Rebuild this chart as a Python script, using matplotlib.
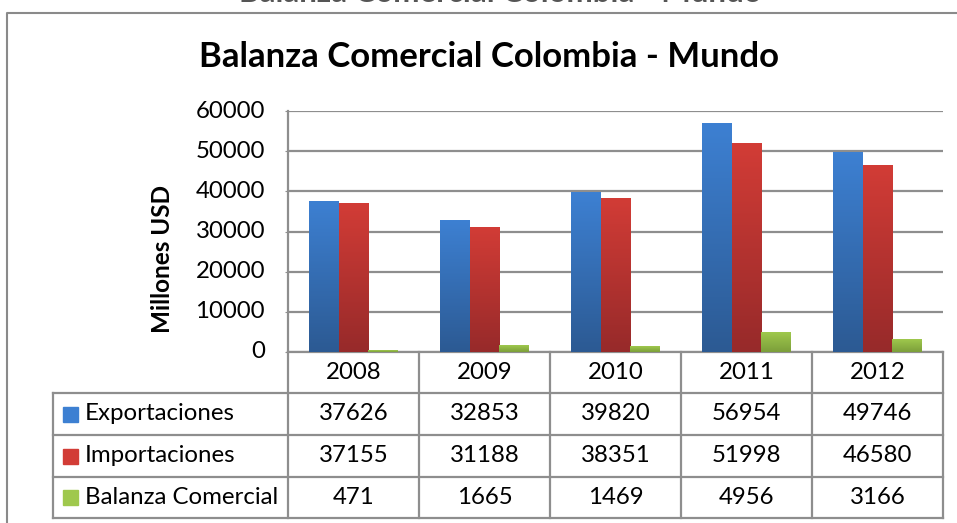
import numpy as np
import matplotlib
matplotlib.use('Agg')
import matplotlib.pyplot as plt
import matplotlib.transforms as mtransforms
from matplotlib.lines import Line2D
from matplotlib.colors import LinearSegmentedColormap

years = ['2008', '2009', '2010', '2011', '2012']
exportaciones = [37626, 32853, 39820, 56954, 49746]
importaciones = [37155, 31188, 38351, 51998, 46580]
balanza = [471, 1665, 1469, 4956, 3166]
series_names = ['Exportaciones', 'Importaciones', 'Balanza Comercial']
series_values = [exportaciones, importaciones, balanza]
# (top colour, bottom colour) of each bar gradient
series_colors = [('#3d80d2', '#2c5a93'), ('#d23c36', '#972a2a'), ('#9fc84d', '#7c9f3a')]
y_ticks = [0, 10000, 20000, 30000, 40000, 50000, 60000]

plt.rcParams['font.family'] = ['Lato', 'DejaVu Sans']

W, H = 957, 523
fig = plt.figure(figsize=(W / 100, H / 100), dpi=100)

def fx(px):
    return px / W

def fy(py):
    return 1 - py / H

grid_col = '#8e8e8e'
fs = 17.3
left, right, top, bottom = 288, 943, 111, 352
ax = fig.add_axes([fx(left), fy(bottom), fx(right - left), fy(top) - fy(bottom)])

x = np.arange(len(years))
width = 0.229
for k, (vals, (ctop, cbot)) in enumerate(zip(series_values, series_colors)):
    bars = ax.bar(x + (k - 1) * width, vals, width, color=cbot, zorder=3)
    cmap = LinearSegmentedColormap.from_list('g%d' % k, [cbot, ctop])
    grad = np.linspace(0, 1, 100).reshape(-1, 1)
    for b in bars:
        x0, y0 = b.get_x(), b.get_y()
        im = ax.imshow(grad, cmap=cmap, origin='lower', aspect='auto',
                       extent=[x0, x0 + b.get_width(), y0, y0 + b.get_height()],
                       zorder=4)
        im.set_clip_path(b)

ax.set_xlim(-0.5, len(years) - 0.5)
ax.set_ylim(0, 60000)
ax.set_yticks(y_ticks)
ax.set_yticklabels([])
ax.set_xticks([])
ax.grid(axis='y', color=grid_col, linewidth=1.6, zorder=0)
for s in ['top', 'right']:
    ax.spines[s].set_visible(False)
for s in ['left', 'bottom']:
    ax.spines[s].set_color(grid_col)
    ax.spines[s].set_linewidth(1.6)
ax.tick_params(axis='y', length=2, color=grid_col)

# y tick labels, right-aligned a fixed pixel distance from the axis
ytrans = mtransforms.blended_transform_factory(fig.transFigure, ax.transData)
for t in y_ticks:
    fig.text(fx(265), t, str(t), transform=ytrans, ha='right', va='center', fontsize=fs)

fig.text(fx(162), fy(259), 'Millones USD', rotation=90, fontsize=17.5,
         fontweight='bold', ha='center', va='center')
fig.text(fx(489), fy(57), 'Balanza Comercial Colombia - Mundo', fontsize=25,
         fontweight='bold', ha='center', va='center')
# remnant of a title cut off at the top edge
fig.text(fx(500), fy(1.5), 'Balanza Comercial Colombia - Mundo', fontsize=22.5,
         fontweight='bold', ha='center', va='baseline', color='#555555')

# chart border
fig.add_artist(Line2D([fx(7.5), fx(7.5), fx(W + 5)], [fy(H + 5), fy(12.5), fy(12.5)],
                      color='#8a8a8a', linewidth=1.5))

# data table
trans = mtransforms.blended_transform_factory(ax.transData, fig.transFigure)
rows = [352, 393, 435, 477, 518]
label_left = 53
lkw = dict(color=grid_col, linewidth=1.6, clip_on=False)
for i in range(len(years) + 1):
    fig.add_artist(Line2D([i - 0.5, i - 0.5], [fy(rows[0]), fy(rows[-1])],
                          transform=trans, **lkw))
for r in rows[1:]:
    fig.add_artist(Line2D([fx(label_left), fx(right)], [fy(r), fy(r)], **lkw))
fig.add_artist(Line2D([fx(label_left), fx(label_left)], [fy(rows[1]), fy(rows[-1])], **lkw))

for i, yr in enumerate(years):
    fig.text(i, fy((rows[0] + rows[1]) / 2), yr, transform=trans,
             ha='center', va='center', fontsize=fs)
for j, (name, vals, (ctop, cbot)) in enumerate(zip(series_names, series_values, series_colors)):
    yc = fy((rows[j + 1] + rows[j + 2]) / 2)
    for i, v in enumerate(vals):
        fig.text(i, yc, str(v), transform=trans, ha='center', va='center', fontsize=fs)
    fig.patches.append(plt.Rectangle((fx(63), yc - 7.5 / H), 15 / W, 15 / H,
                                     transform=fig.transFigure, color=ctop, figure=fig))
    fig.text(fx(85), yc, name, ha='left', va='center', fontsize=fs)

fig.savefig('out.png', dpi=100)
